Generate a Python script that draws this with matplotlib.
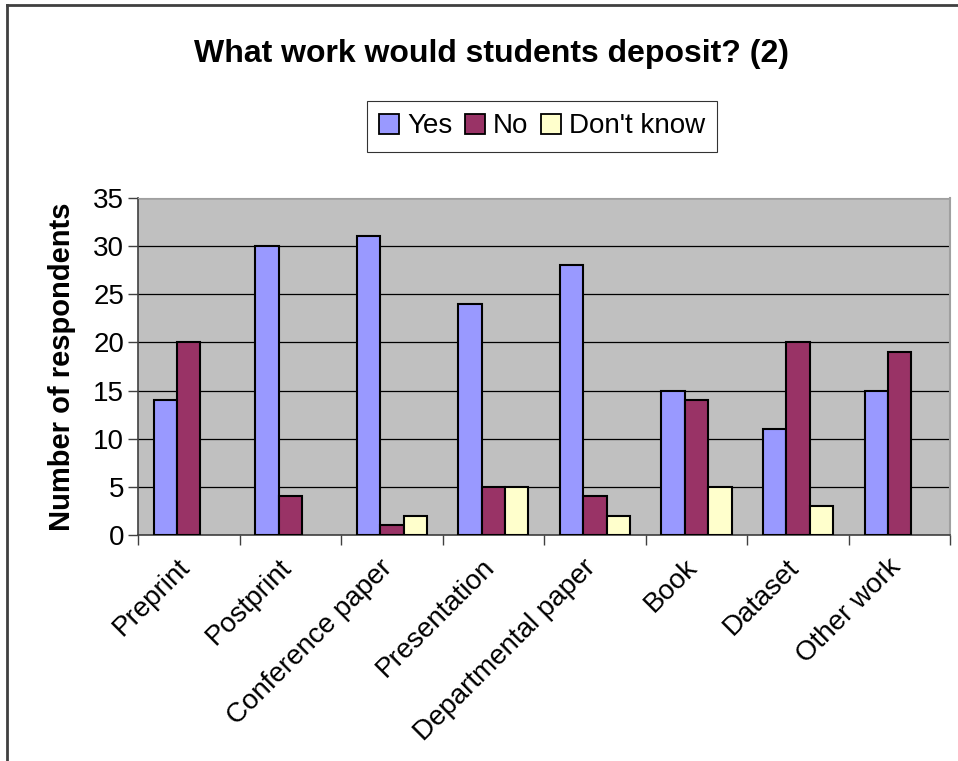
import matplotlib
matplotlib.use('Agg')
import matplotlib.pyplot as plt
import matplotlib.lines as mlines
import matplotlib.transforms as mtransforms
import numpy as np

plt.rcParams['font.family'] = ['Liberation Sans', 'DejaVu Sans']

# data
categories = ['Preprint', 'Postprint', 'Conference paper', 'Presentation',
              'Departmental paper', 'Book', 'Dataset', 'Other work']
yes_vals = [14, 30, 31, 24, 28, 15, 11, 15]
no_vals = [20, 4, 1, 5, 4, 14, 20, 19]
dk_vals = [0, 0, 2, 5, 2, 5, 3, 0]
series_names = ['Yes', 'No', "Don't know"]

# colours
col_yes = '#9999FF'
col_no = '#993366'
col_dk = '#FFFFCC'

fig = plt.figure(figsize=(9.58, 7.61), dpi=100)
ax = fig.add_axes([0.144, 0.297, 0.848, 0.443])
ax.set_facecolor('#C0C0C0')

x = np.arange(len(categories))
w = 0.23
for vals, col, off, name in zip([yes_vals, no_vals, dk_vals],
                                [col_yes, col_no, col_dk],
                                [-w, 0, w], series_names):
    heights = [v if v > 0 else np.nan for v in vals]
    ax.bar(x + off, heights, w, color=col, edgecolor='black',
           linewidth=1.5, label=name, zorder=3)

ax.set_xlim(-0.5, len(categories) - 0.5)
ax.set_ylim(0, 35)
ax.set_yticks(range(0, 36, 5))
ax.yaxis.grid(True, color='black', linewidth=0.9, zorder=1)
ax.set_axisbelow(True)

# category labels at centres, tick marks at boundaries
ax.set_xticks(x)
ax.set_xticklabels(categories, rotation=45, ha='right', va='top',
                   rotation_mode='anchor', fontsize=20)
ax.tick_params(axis='x', which='major', length=0, pad=14)
shift = mtransforms.ScaledTranslation(-12 / 100, 0, fig.dpi_scale_trans)
for lbl in ax.get_xticklabels():
    lbl.set_transform(lbl.get_transform() + shift)
ax.set_xticks(np.arange(-0.5, len(categories), 1.0), minor=True)
ax.tick_params(axis='x', which='minor', length=7, width=1, color='#404040')
ax.tick_params(axis='y', length=7, width=1, color='#404040', labelsize=20, pad=3)

for s in ['left', 'bottom']:
    ax.spines[s].set_color('#404040')
    ax.spines[s].set_linewidth(1.2)
ax.spines['top'].set_color('#A0A0A0')
ax.spines['right'].set_color('#A0A0A0')
ax.spines['right'].set_linewidth(1.5)

ax.set_ylabel('Number of respondents', fontsize=21, fontweight='bold', labelpad=12)

fig.text(0.513, 0.929, 'What work would students deposit? (2)',
         ha='center', va='center', fontsize=23, fontweight='bold')

handles = [mlines.Line2D([], [], marker='s', linestyle='None', markersize=14,
                         markerfacecolor=c, markeredgecolor='black',
                         markeredgewidth=1.3, label=n)
           for c, n in zip([col_yes, col_no, col_dk], series_names)]
leg = fig.legend(handles=handles, loc='center', bbox_to_anchor=(0.566, 0.834),
                 ncol=3, fontsize=20, frameon=True, fancybox=False,
                 handlelength=0.7, handletextpad=0.3, columnspacing=0.45,
                 borderpad=0.45)
leg.get_frame().set_edgecolor('black')
leg.get_frame().set_linewidth(0.8)

# outer chart frame (left and top edges visible)
fig.add_artist(mlines.Line2D([0.0073, 0.0073], [0, 0.993], color='#404040',
                             linewidth=2, transform=fig.transFigure))
fig.add_artist(mlines.Line2D([0.0073, 1.0], [0.993, 0.993], color='#404040',
                             linewidth=2, transform=fig.transFigure))

fig.savefig('out.png', dpi=100)
